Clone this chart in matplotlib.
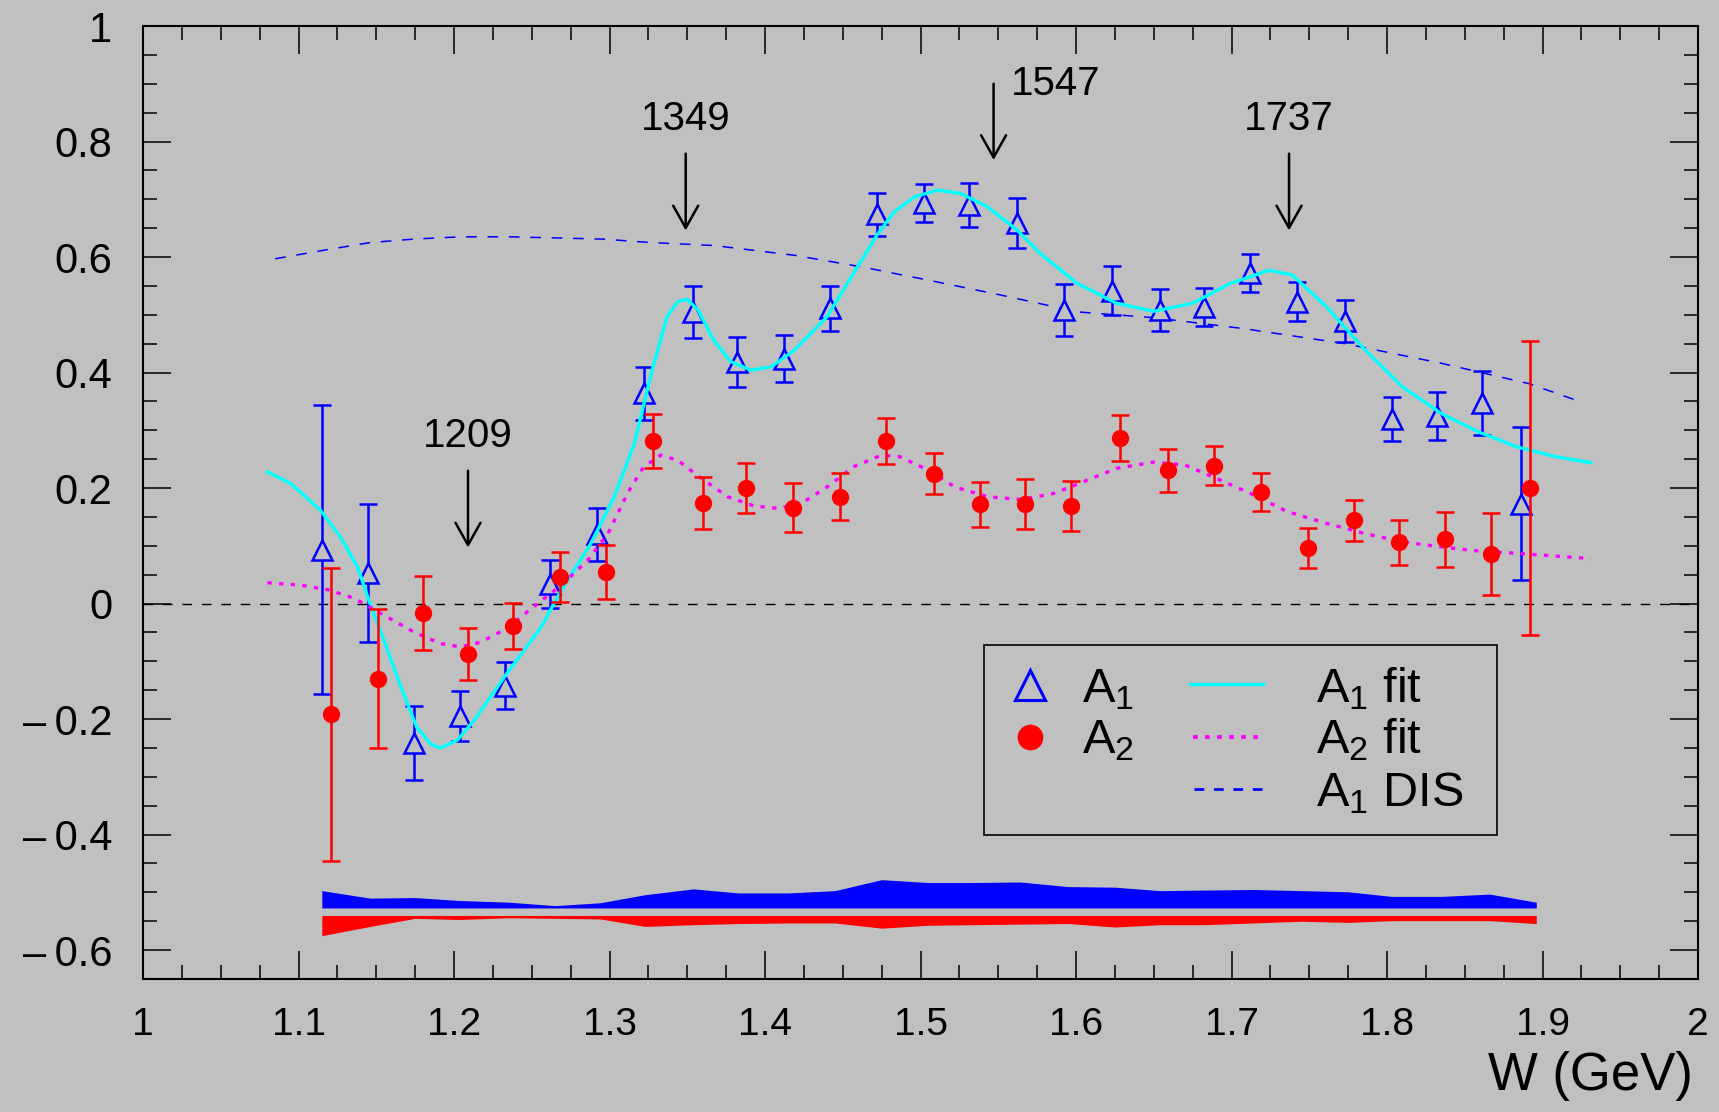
import matplotlib
matplotlib.use("Agg")
import matplotlib.pyplot as plt
from matplotlib.patches import Rectangle
from matplotlib.lines import Line2D
from matplotlib.ticker import MultipleLocator, FuncFormatter

plt.rcParams['font.family'] = ['Liberation Sans', 'DejaVu Sans']
plt.rcParams['mathtext.fontset'] = 'custom'
plt.rcParams['mathtext.rm'] = 'Liberation Sans'
plt.rcParams['mathtext.it'] = 'Liberation Sans:italic'
plt.rcParams['mathtext.bf'] = 'Liberation Sans:bold'

BG = '#c0c0c0'

# ---- measured asymmetries ----
a1_w = [1.115, 1.145, 1.174, 1.204, 1.233, 1.262, 1.292, 1.322, 1.354, 1.382,
        1.412, 1.442, 1.472, 1.502, 1.531, 1.562, 1.592, 1.623, 1.654, 1.682,
        1.712, 1.742, 1.773, 1.803, 1.832, 1.861, 1.886]
a1 = [0.093, 0.053, -0.241, -0.195, -0.142, 0.034, 0.120, 0.364, 0.505, 0.418,
      0.424, 0.511, 0.674, 0.693, 0.690, 0.659, 0.508, 0.542, 0.508, 0.514,
      0.572, 0.523, 0.489, 0.319, 0.325, 0.347, 0.173]
a1_err = [0.250, 0.119, 0.064, 0.043, 0.040, 0.042, 0.046, 0.046, 0.045, 0.043,
          0.041, 0.039, 0.037, 0.033, 0.038, 0.043, 0.045, 0.042, 0.036, 0.033,
          0.033, 0.034, 0.036, 0.038, 0.042, 0.055, 0.133]

a2_w = [1.121, 1.151, 1.180, 1.209, 1.238, 1.268, 1.298, 1.328, 1.360, 1.388,
        1.418, 1.448, 1.478, 1.509, 1.538, 1.567, 1.597, 1.628, 1.659, 1.689,
        1.719, 1.749, 1.779, 1.808, 1.837, 1.867, 1.892]
a2 = [-0.192, -0.130, -0.016, -0.087, -0.039, 0.046, 0.055, 0.282, 0.174, 0.200,
      0.166, 0.185, 0.282, 0.225, 0.172, 0.172, 0.169, 0.287, 0.231, 0.239,
      0.193, 0.096, 0.144, 0.106, 0.111, 0.085, 0.200]
a2_err = [0.253, 0.120, 0.064, 0.045, 0.040, 0.044, 0.047, 0.047, 0.045, 0.044,
          0.042, 0.041, 0.040, 0.035, 0.039, 0.043, 0.043, 0.040, 0.037, 0.033,
          0.033, 0.034, 0.036, 0.039, 0.047, 0.071, 0.254]

# ---- systematic error bands ----
band_w = [1.115, 1.146, 1.175, 1.203, 1.235, 1.265, 1.294, 1.323, 1.354, 1.383,
          1.415, 1.445, 1.475, 1.505, 1.534, 1.564, 1.595, 1.625, 1.654, 1.683,
          1.714, 1.745, 1.775, 1.803, 1.835, 1.866, 1.896]
a1_sys = [0.030, 0.017, 0.018, 0.013, 0.010, 0.004, 0.009, 0.023, 0.033, 0.026,
          0.026, 0.030, 0.049, 0.044, 0.044, 0.045, 0.037, 0.036, 0.030, 0.031,
          0.032, 0.030, 0.028, 0.020, 0.020, 0.024, 0.010]
a2_sys = [0.035, 0.019, 0.005, 0.007, 0.004, 0.005, 0.006, 0.019, 0.016, 0.014,
          0.013, 0.013, 0.022, 0.017, 0.016, 0.015, 0.014, 0.020, 0.016, 0.016,
          0.013, 0.010, 0.012, 0.009, 0.009, 0.009, 0.014]
a1_sys_base = -0.527
a2_sys_base = -0.540

# ---- fit curves ----
a1fit_w = [1.080, 1.095, 1.114, 1.127, 1.138, 1.146, 1.155, 1.166, 1.176, 1.185,
           1.191, 1.202, 1.213, 1.234, 1.256, 1.269, 1.288, 1.303, 1.316, 1.327,
           1.337, 1.344, 1.350, 1.357, 1.367, 1.378, 1.391, 1.404, 1.419, 1.440,
           1.457, 1.472, 1.483, 1.496, 1.511, 1.526, 1.543, 1.562, 1.577, 1.601,
           1.626, 1.650, 1.675, 1.699, 1.724, 1.739, 1.761, 1.786, 1.810, 1.835,
           1.859, 1.884, 1.909, 1.931]
a1fit = [0.228, 0.208, 0.162, 0.115, 0.063, 0.000, -0.064, -0.145, -0.214, -0.243,
         -0.250, -0.237, -0.202, -0.121, -0.041, 0.023, 0.104, 0.185, 0.277, 0.400,
         0.497, 0.523, 0.527, 0.508, 0.456, 0.419, 0.404, 0.410, 0.439, 0.497,
         0.572, 0.638, 0.678, 0.704, 0.716, 0.710, 0.687, 0.647, 0.606, 0.554,
         0.520, 0.506, 0.520, 0.554, 0.577, 0.569, 0.514, 0.439, 0.375, 0.329,
         0.297, 0.271, 0.254, 0.244]

a2fit_w = [1.080, 1.101, 1.119, 1.136, 1.153, 1.174, 1.191, 1.204, 1.217, 1.234,
           1.251, 1.269, 1.286, 1.299, 1.312, 1.322, 1.333, 1.344, 1.359, 1.376,
           1.393, 1.408, 1.423, 1.440, 1.457, 1.475, 1.487, 1.505, 1.522, 1.543,
           1.565, 1.586, 1.603, 1.626, 1.650, 1.670, 1.690, 1.712, 1.736, 1.761,
           1.786, 1.810, 1.835, 1.859, 1.884, 1.909, 1.931]
a2fit = [0.036, 0.032, 0.024, 0.009, -0.017, -0.049, -0.069, -0.075, -0.067, -0.043,
         -0.006, 0.032, 0.075, 0.121, 0.193, 0.237, 0.257, 0.248, 0.217, 0.185,
         0.169, 0.165, 0.173, 0.202, 0.237, 0.257, 0.254, 0.231, 0.202, 0.185,
         0.180, 0.191, 0.209, 0.234, 0.245, 0.240, 0.217, 0.191, 0.159, 0.139,
         0.121, 0.107, 0.098, 0.091, 0.087, 0.082, 0.078]

dis_w = [1.085, 1.119, 1.146, 1.174, 1.204, 1.236, 1.267, 1.296, 1.327, 1.367,
         1.419, 1.462, 1.505, 1.552, 1.601, 1.650, 1.708, 1.773, 1.835, 1.891,
         1.926]
dis = [0.597, 0.613, 0.625, 0.631, 0.635, 0.635, 0.633, 0.631, 0.625, 0.620,
       0.603, 0.583, 0.560, 0.534, 0.505, 0.495, 0.476, 0.450, 0.416, 0.381,
       0.348]

# ---- resonance markers ----
res_w = [1.209, 1.349, 1.547, 1.737]
res_labels = ['1209', '1349', '1547', '1737']
res_top = [0.230, 0.779, 0.900, 0.779]
res_head = [0.097, 0.646, 0.768, 0.646]

fig = plt.figure(figsize=(17.19, 11.12), dpi=100, facecolor=BG)
ax = fig.add_axes([143 / 1719, 1 - 979 / 1112, (1698 - 143) / 1719, (979 - 26) / 1112])
ax.set_facecolor(BG)
ax.set_xlim(1, 2)
ax.set_ylim(-0.65, 1)

ax.xaxis.set_major_locator(MultipleLocator(0.1))
ax.xaxis.set_minor_locator(MultipleLocator(0.025))
ax.yaxis.set_major_locator(MultipleLocator(0.2))
ax.yaxis.set_minor_locator(MultipleLocator(0.05))


def fmt(v, _):
    s = f'{v:.1f}'.rstrip('0').rstrip('.')
    if s in ('-0', '0'):
        return '0'
    return s.replace('-', '\u2013\u2009')


ax.xaxis.set_major_formatter(FuncFormatter(fmt))
ax.yaxis.set_major_formatter(FuncFormatter(fmt))
ax.tick_params(which='both', direction='in', top=True, right=True, width=1.1, color='k')
ax.tick_params(which='major', length=20)
ax.tick_params(which='minor', length=10)
ax.tick_params(axis='x', labelsize=28, pad=20)
ax.tick_params(axis='y', labelsize=30, pad=22)
for sp in ax.spines.values():
    sp.set_linewidth(1.5)
    sp.set_color('k')

# zero line
ax.axhline(0, color='k', lw=1.0, dashes=(7, 7), zorder=1)

# systematic bands
ax.fill_between(band_w, [a1_sys_base] * len(band_w),
                [a1_sys_base + s for s in a1_sys], color='#0000ff', lw=0, zorder=2)
ax.fill_between(band_w, [a2_sys_base - s for s in a2_sys],
                [a2_sys_base] * len(band_w), color='#ff0000', lw=0, zorder=2)

# curves
ax.plot(dis_w, dis, color='#0000ff', lw=1.1, dashes=(7, 7), zorder=2)

# data
ax.errorbar(a1_w, a1, yerr=a1_err, fmt='none', ecolor='#0000ff', elinewidth=1.8,
            capsize=6.5, capthick=1.8, zorder=3)
ax.plot(a1_w, a1, ls='none', marker='^', ms=14, mfc=BG, mec='#0000ff', mew=1.8, zorder=4)
ax.plot(a1fit_w, a1fit, color='#00ffff', lw=2.4, zorder=5)
ax.plot(a2fit_w, a2fit, color='#ff00ff', lw=2.4, dashes=(1.3, 2.2), zorder=5)
ax.errorbar(a2_w, a2, yerr=a2_err, fmt='none', ecolor='#ff0000', elinewidth=1.8,
            capsize=6.5, capthick=1.8, zorder=6)
ax.plot(a2_w, a2, ls='none', marker='o', ms=12.5, mfc='#ff0000', mec='#ff0000', mew=0, zorder=7)

# resonance arrows and labels
for w, lab, top, head in zip(res_w, res_labels, res_top, res_head):
    ax.annotate('', xy=(w, head), xytext=(w, top),
                arrowprops=dict(arrowstyle='->,head_length=0.8,head_width=0.45',
                                lw=1.8, color='k', mutation_scale=20,
                                shrinkA=0, shrinkB=0), zorder=8)
    if lab == '1547':
        ax.text(w + 0.011, top - 0.019, lab, ha='left', va='baseline', fontsize=29, zorder=8)
    else:
        ax.text(w, top + 0.041, lab, ha='center', va='baseline', fontsize=29, zorder=8)

# key
ax.add_patch(Rectangle((1.5406, -0.4002), 0.3299, 0.3292, fill=False, ec='k', lw=1.2, zorder=8))
ax.plot([1.5705], [-0.1403], ls='none', marker='^', ms=21, mfc='none', mec='#0000ff', mew=2.2, zorder=9)
ax.plot([1.5705], [-0.2311], ls='none', marker='o', ms=18.5, mfc='#ff0000', mew=0, zorder=9)
ax.text(1.604, -0.1705, r'$\mathrm{A}_1$', fontsize=35, va='baseline', zorder=9)
ax.text(1.604, -0.2599, r'$\mathrm{A}_2$', fontsize=35, va='baseline', zorder=9)
ax.add_line(Line2D([1.673, 1.720], [-0.1398, -0.1398], color='#00ffff', lw=2.4, zorder=9))
ax.add_line(Line2D([1.675, 1.720], [-0.2311, -0.2311], color='#ff00ff', lw=2.8,
                   dashes=(1.2, 1.9), zorder=9))
ax.add_line(Line2D([1.676, 1.720], [-0.3217, -0.3217], color='#0000ff', lw=2.0,
                   dashes=(3.5, 3.5), zorder=9))
ax.text(1.7543, -0.1705, r'$\mathrm{A}_1$ fit', fontsize=35, va='baseline', zorder=9)
ax.text(1.7543, -0.2599, r'$\mathrm{A}_2$ fit', fontsize=35, va='baseline', zorder=9)
ax.text(1.7543, -0.3512, r'$\mathrm{A}_1$ DIS', fontsize=35, va='baseline', zorder=9)

ax.set_xlabel('W (GeV)', fontsize=38, loc='right')
ax.xaxis.label.set_va('baseline')
ax.xaxis.set_label_coords((1693 - 143) / 1555, (979 - 1090) / 953)

fig.savefig('out.png', dpi=100, facecolor=BG)
